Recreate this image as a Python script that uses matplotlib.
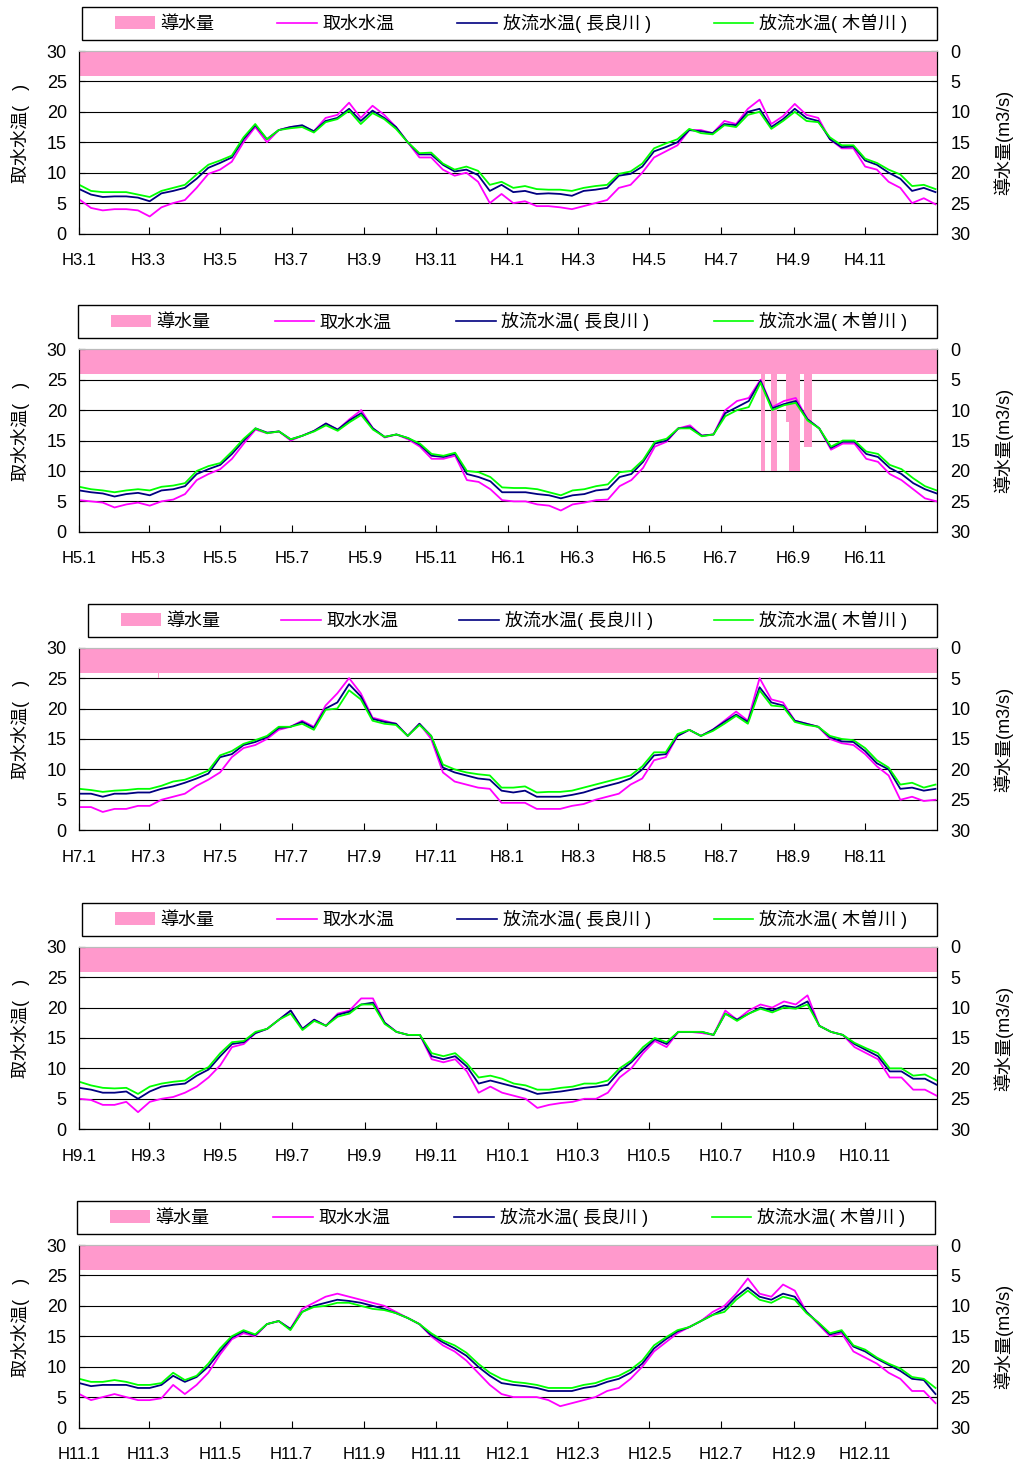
import numpy as np
import pandas as pd
import matplotlib
matplotlib.use('Agg')
import matplotlib.pyplot as plt
import matplotlib.dates as mdates
from matplotlib.patches import Patch, Rectangle
from matplotlib.lines import Line2D

# water temperature read every 10 days (from Jan 1 of the first year of each panel)
STEP = 10

# H3-H4 (1991-1992)
M_H3 = [5.6,4.2,3.8,4.0,4.0,3.8,2.8,4.3,5.0,5.5,7.5,9.8,10.5,11.8,15.0,17.5,15.0,17.0,17.5,17.7,16.8,19.0,19.5,21.5,19.0,21.0,19.5,17.5,15.0,12.5,12.5,10.5,9.5,10.0,8.5,5.0,6.5,
        5.0,5.3,4.5,4.5,4.3,4.0,4.5,5.0,5.5,7.5,8.0,10.0,12.5,13.5,14.5,17.0,17.0,16.5,18.5,18.0,20.5,22.0,18.0,19.3,21.3,19.5,19.0,15.5,14.0,14.0,11.0,10.5,8.5,7.5,5.0,5.8,4.8]
N_H3 = [7.3,6.4,6.0,6.1,6.1,5.9,5.3,6.6,7.0,7.5,9.0,10.8,11.6,12.5,15.5,17.8,15.5,17.0,17.5,17.8,16.8,18.5,19.0,20.5,18.5,20.2,19.0,17.5,15.0,13.0,13.0,11.3,10.2,10.5,9.6,7.0,8.0,
        6.8,7.0,6.5,6.6,6.5,6.2,7.0,7.2,7.5,9.5,9.8,11.0,13.5,14.2,15.0,17.0,16.8,16.5,18.0,17.8,20.0,20.5,17.5,18.8,20.5,19.0,18.5,15.5,14.2,14.3,12.0,11.3,10.0,9.0,7.0,7.5,6.8]
G_H3 = [8.0,7.0,6.8,6.8,6.8,6.4,6.0,7.0,7.5,8.0,9.7,11.3,12.0,12.8,15.8,18.0,15.5,17.0,17.3,17.5,16.6,18.3,18.8,20.2,18.0,19.8,18.8,17.2,15.0,13.2,13.3,11.5,10.5,11.0,10.3,8.0,8.5,
        7.5,7.8,7.3,7.2,7.2,7.0,7.5,7.8,8.0,9.8,10.2,11.5,14.0,14.8,15.5,17.2,16.5,16.3,17.8,17.5,19.5,20.0,17.2,18.5,20.0,18.5,18.3,15.8,14.5,14.5,12.3,11.6,10.5,9.7,7.8,8.0,7.3]

# H5-H6 (1993-1994)
M_H5 = [5.2,5.0,4.8,4.0,4.5,4.8,4.3,5.0,5.3,6.2,8.5,9.5,10.3,12.0,14.5,16.8,16.2,16.5,15.0,15.8,16.6,17.8,16.8,18.5,20.0,17.0,15.5,16.0,15.2,14.0,12.0,12.0,12.5,8.5,8.2,7.0,5.2,
        5.0,5.0,4.5,4.3,3.5,4.5,4.8,5.2,5.3,7.5,8.5,10.5,14.0,14.8,17.0,17.5,15.8,16.0,20.0,21.5,22.0,25.0,20.5,21.5,22.0,18.5,17.0,13.5,14.5,14.5,12.0,11.5,9.5,8.5,7.0,5.5,5.0]
N_H5 = [6.8,6.5,6.3,5.8,6.2,6.4,6.0,6.8,7.0,7.5,9.5,10.3,11.0,12.8,15.0,17.0,16.3,16.5,15.2,15.8,16.6,17.8,16.8,18.3,19.5,17.0,15.6,16.0,15.4,14.3,12.5,12.3,12.8,9.5,9.0,8.3,6.5,
        6.5,6.5,6.2,6.0,5.5,6.0,6.2,6.8,7.0,9.0,9.5,11.5,14.5,15.0,17.0,17.2,15.8,16.0,19.5,20.5,21.5,24.8,20.3,21.0,21.5,18.5,17.0,13.8,14.8,14.8,12.8,12.3,10.5,9.5,8.0,7.0,6.3]
G_H5 = [7.4,7.0,6.8,6.5,6.8,7.0,6.8,7.4,7.6,8.0,10.0,10.8,11.3,13.2,15.3,17.0,16.2,16.5,15.2,15.8,16.5,17.5,16.6,18.0,19.2,16.8,15.6,16.0,15.4,14.5,12.8,12.5,13.0,10.0,9.8,9.0,7.3,
        7.2,7.2,7.0,6.5,6.0,6.8,7.0,7.5,7.8,9.8,10.0,11.8,14.8,15.3,17.0,17.0,15.7,16.0,19.0,20.0,20.5,24.5,20.0,20.8,21.2,18.3,17.0,14.0,15.0,15.0,13.2,12.8,11.0,10.3,8.8,7.5,6.8]

# H7-H8 (1995-1996)
M_H7 = [3.8,3.8,3.0,3.5,3.5,4.0,4.0,5.0,5.5,6.0,7.3,8.3,9.5,12.0,13.5,14.0,15.0,16.5,17.0,18.0,17.0,20.5,22.5,25.0,22.5,18.5,18.0,17.5,15.5,17.5,15.0,9.5,8.0,7.5,7.0,6.8,4.5,
        4.5,4.5,3.5,3.5,3.5,4.0,4.3,5.0,5.5,6.0,7.5,8.5,11.5,12.0,15.5,16.5,15.5,16.5,18.0,19.5,18.0,25.0,21.5,21.0,18.0,17.5,17.0,15.0,14.3,14.0,12.5,10.5,9.0,5.0,5.5,4.8,5.0]
N_H7 = [6.0,6.0,5.5,6.0,6.0,6.2,6.2,6.8,7.2,7.8,8.5,9.3,12.0,12.5,14.0,14.5,15.3,16.8,17.0,17.8,16.8,20.0,21.0,24.0,22.0,18.3,17.8,17.5,15.5,17.5,15.5,10.3,9.5,9.0,8.5,8.3,6.5,
        6.2,6.5,5.5,5.5,5.5,5.8,6.2,6.8,7.3,7.8,8.5,10.0,12.3,12.5,15.5,16.5,15.5,16.5,17.8,19.0,17.8,23.5,21.0,20.5,18.0,17.5,17.0,15.3,14.6,14.5,13.0,11.0,10.0,6.8,7.0,6.5,6.8]
G_H7 = [6.8,6.6,6.3,6.5,6.6,6.8,6.8,7.3,8.0,8.3,9.0,9.8,12.3,13.0,14.2,14.8,15.5,17.0,17.0,17.5,16.5,19.8,20.0,23.0,21.5,18.0,17.5,17.3,15.5,17.3,15.5,10.8,10.0,9.5,9.2,9.0,7.0,
        7.0,7.2,6.2,6.3,6.3,6.5,7.0,7.5,8.0,8.5,9.0,10.5,12.8,12.8,15.8,16.5,15.5,16.3,17.5,18.8,17.5,23.0,20.5,20.3,17.8,17.3,17.0,15.5,15.0,14.8,13.5,11.5,10.3,7.5,7.8,7.0,7.5]

# H9-H10 (1997-1998)
M_H9 = [5.0,4.8,4.0,4.0,4.5,2.8,4.5,5.0,5.3,6.0,7.0,8.5,10.5,13.5,14.0,15.8,16.5,18.0,19.5,16.5,18.0,17.0,19.0,19.5,21.5,21.5,17.5,16.0,15.5,15.5,11.5,11.0,11.5,9.5,6.0,7.0,6.0,
        5.5,5.0,3.5,4.0,4.3,4.5,5.0,5.0,6.0,8.5,10.0,12.5,14.5,13.5,16.0,16.0,15.8,15.5,19.5,18.0,19.5,20.5,20.0,21.0,20.5,22.0,17.0,16.0,15.5,13.5,12.5,11.5,8.5,8.5,6.5,6.5,5.5]
N_H9 = [6.8,6.5,6.0,6.0,6.2,5.0,6.2,7.0,7.3,7.5,8.8,9.8,12.0,14.0,14.3,15.8,16.5,18.0,19.5,16.5,18.0,17.0,18.8,19.3,20.5,20.8,17.5,16.0,15.5,15.5,12.0,11.5,12.0,10.3,7.5,8.0,7.5,
        7.0,6.5,5.8,6.0,6.2,6.5,6.8,7.0,7.3,9.5,11.0,13.0,14.8,14.0,16.0,16.0,16.0,15.5,19.0,18.0,19.0,20.0,19.5,20.3,20.0,21.0,17.0,16.0,15.5,14.0,13.0,12.0,9.5,9.5,8.3,8.3,7.3]
G_H9 = [7.8,7.2,6.8,6.7,6.8,5.8,7.0,7.5,7.8,8.0,9.3,10.2,12.5,14.3,14.5,16.0,16.5,18.0,19.0,16.3,17.8,17.0,18.5,19.0,20.5,20.5,17.3,16.0,15.5,15.5,12.5,12.0,12.5,10.8,8.5,8.8,8.3,
        7.5,7.2,6.5,6.5,6.8,7.0,7.5,7.5,8.0,10.0,11.3,13.5,15.0,14.3,16.0,16.0,16.0,15.5,19.0,17.8,19.0,19.8,19.2,20.0,19.8,20.5,17.0,16.0,15.5,14.2,13.3,12.5,10.0,10.0,8.8,9.0,8.0]

# H11-H12 (1999-2000)
M_H11 = [5.5,4.5,5.0,5.5,5.0,4.5,4.5,4.8,7.0,5.5,7.0,9.0,12.0,14.5,15.5,15.0,17.0,17.5,16.2,19.5,20.5,21.5,22.0,21.5,21.0,20.5,20.0,19.0,18.0,17.0,15.0,13.5,12.5,11.0,9.0,7.0,5.5,
         5.0,5.0,5.0,4.5,3.5,4.0,4.5,5.0,6.0,6.5,8.0,10.0,12.5,14.0,15.5,16.5,17.5,19.0,20.0,22.0,24.5,22.0,21.5,23.5,22.5,19.0,17.0,15.0,15.5,12.5,11.5,10.5,9.0,8.0,6.0,6.0,4.0]
N_H11 = [7.3,6.8,7.0,7.0,7.0,6.5,6.5,7.0,8.5,7.5,8.3,10.0,12.5,14.8,15.8,15.2,17.0,17.5,16.2,19.0,20.0,20.5,21.0,20.8,20.5,20.0,19.5,18.8,18.0,17.0,15.2,14.0,13.0,11.8,10.0,8.5,7.3,
         7.0,6.8,6.5,6.0,6.0,6.0,6.5,6.8,7.5,8.0,9.0,10.5,13.0,14.5,15.8,16.5,17.5,18.5,19.5,21.5,23.0,21.5,21.0,22.0,21.5,19.0,17.2,15.3,15.8,13.3,12.5,11.3,10.3,9.3,8.0,7.8,5.5]
G_H11 = [8.0,7.5,7.5,7.8,7.5,7.0,7.0,7.3,9.0,7.8,8.5,10.5,13.0,15.0,16.0,15.3,17.0,17.5,16.0,19.0,19.8,20.0,20.5,20.5,20.0,19.5,19.3,18.8,18.0,17.0,15.5,14.3,13.5,12.3,10.5,9.0,8.0,
         7.5,7.3,7.0,6.5,6.5,6.5,7.0,7.3,8.0,8.5,9.5,11.0,13.5,14.8,16.0,16.5,17.5,18.5,19.0,21.0,22.5,21.0,20.5,21.5,21.0,18.8,17.3,15.5,16.0,13.5,12.8,11.5,10.5,9.7,8.3,8.0,6.5]

# diversion flow (m3/s): normal value, plus periods with a larger flow
FLOW_BASE = 4.1
FLOW_H5_START = ['1994-08-04', '1994-08-13', '1994-08-26', '1994-08-28', '1994-09-10']
FLOW_H5_DAYS = [4, 5, 2, 10, 7]
FLOW_H5_VAL = [20.0, 20.0, 12.0, 20.0, 16.0]
FLOW_H7_START = ['1995-03-09']
FLOW_H7_DAYS = [1]
FLOW_H7_VAL = [5.0]

LABELS = ['導水量', '取水水温', '放流水温( 長良川 )', '放流水温( 木曽川 )']
COLORS = ['#FF99CC', '#FF00FF', '#000080', '#00FF00']

PANELS = [
  (1991, M_H3, N_H3, G_H3, [], [], []),
  (1993, M_H5, N_H5, G_H5, FLOW_H5_START, FLOW_H5_DAYS, FLOW_H5_VAL),
  (1995, M_H7, N_H7, G_H7, FLOW_H7_START, FLOW_H7_DAYS, FLOW_H7_VAL),
  (1997, M_H9, N_H9, G_H9, [], [], []),
  (1999, M_H11, N_H11, G_H11, [], [], []),
]

W, H = 1014, 1466
AX_X0, AX_X1 = 79.3, 936.7
AX_TOPS = [51, 349.3, 647.7, 946.7, 1245]
AX_HGT = 182.5
LEG_X = [(82, 937), (78, 937), (88, 937), (82, 937), (77, 935)]


def draw_panel(fig, i, year, m, n, g, fstart, fdays, fval):
  top = AX_TOPS[i]
  ax = fig.add_axes([AX_X0 / W, 1 - (top + AX_HGT) / H, (AX_X1 - AX_X0) / W, AX_HGT / H])
  ax2 = ax.twinx()
  ax.set_zorder(ax2.get_zorder() + 1)
  ax.patch.set_visible(False)

  t0 = pd.Timestamp(year, 1, 1)
  t1 = pd.Timestamp(year + 2, 1, 1)
  dates = t0 + pd.to_timedelta(np.arange(0, STEP * len(m), STEP), unit='D')
  x = mdates.date2num(dates)

  # diversion flow on the inverted right axis
  ax2.bar(mdates.date2num(t0), FLOW_BASE, width=(t1 - t0).days, align='edge',
          color=COLORS[0], linewidth=0)
  if fstart:
    ax2.bar(mdates.date2num(pd.to_datetime(fstart)), fval, width=fdays, align='edge',
            color=COLORS[0], linewidth=0)
  ax2.set_ylim(30, 0)
  ax2.set_yticks(range(0, 31, 5))
  ax2.set_axisbelow(True)
  ax2.yaxis.grid(True, color='black', linewidth=0.8)
  ax2.tick_params(axis='y', direction='in', length=4, pad=10, labelsize=13)
  ax2.set_ylabel('導水量(m3/s)', fontsize=13)
  ax2.yaxis.set_label_coords(1.0657, 0.5)

  ax.plot(x, m, color=COLORS[1], lw=1.3)
  ax.plot(x, n, color=COLORS[2], lw=1.3)
  ax.plot(x, g, color=COLORS[3], lw=1.3)
  ax.set_ylim(0, 30)
  ax.set_yticks(range(0, 31, 5))
  ax.set_xlim(mdates.date2num(t0), mdates.date2num(t1))
  ticks = pd.date_range(t0, periods=12, freq='2MS')
  ax.set_xticks(mdates.date2num(ticks))
  ax.set_xticklabels(['H%d.%d' % (d.year - 1988, d.month) for d in ticks])
  ax.tick_params(axis='x', direction='in', length=5, pad=14, labelsize=12)
  ax.tick_params(axis='y', direction='in', length=4, pad=9, labelsize=13)
  ax.set_ylabel('取水水温(   )', fontsize=13)
  ax.yaxis.set_label_coords(-0.0575, 0.55)

  for a in (ax, ax2):
    for s in ('left', 'right', 'bottom'):
      a.spines[s].set_color('black')
    a.spines['top'].set_color('#bbbbbb')

  # legend box above the panel
  lx0, lx1 = LEG_X[i]
  ly1 = top - 11
  fig.add_artist(Rectangle((lx0 / W, 1 - ly1 / H), (lx1 - lx0) / W, 33 / H,
                           transform=fig.transFigure, fill=False, ec='black', lw=1))
  handles = [Patch(facecolor=COLORS[0], edgecolor='none')] + \
            [Line2D([], [], color=c, lw=1.2) for c in COLORS[1:]]
  fig.legend(handles, LABELS, loc='center', mode='expand', ncol=4, frameon=False,
             bbox_to_anchor=((lx0 + 33) / W, 1 - ly1 / H, (lx1 - lx0 - 63) / W, 33 / H),
             bbox_transform=fig.transFigure, borderpad=0, borderaxespad=0,
             handlelength=2.2, handletextpad=0.3, fontsize=13)


def main():
  plt.rcParams['font.family'] = ['Liberation Sans', 'Noto Sans CJK JP']
  fig = plt.figure(figsize=(W / 100, H / 100), dpi=100)
  for i, p in enumerate(PANELS):
    draw_panel(fig, i, *p)
  fig.savefig('out.png', dpi=100)


if __name__ == "__main__":
  main()
